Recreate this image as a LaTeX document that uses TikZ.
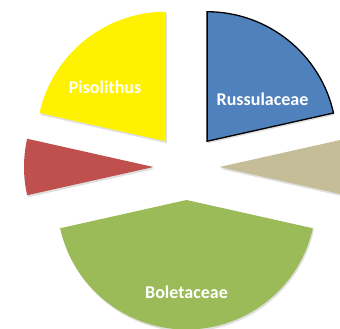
\documentclass[tikz,border=0pt]{standalone}
\usepackage{fontspec}
\setmainfont{Carlito}
\usetikzlibrary{shadows}
\definecolor{cblue}{HTML}{4F81BD}
\definecolor{cyellow}{HTML}{FFF200}
\definecolor{cred}{HTML}{C0504D}
\definecolor{cgreen}{HTML}{9BBB59}
\definecolor{ctan}{HTML}{C4BD97}
\tikzset{
  slice/.style={drop shadow={opacity=0.25,shadow xshift=1pt,shadow yshift=-2pt}},
  lbl/.style={text=white,font=\bfseries\fontsize{18}{20}\selectfont,inner sep=0pt}
}
\newcommand{\pieslice}[4]{% start, end, bisector, style
  \path[#4] (186.5,162) ++(#3:33) coordinate (apex) -- ++(#1:129.5) arc[start angle=#1,end angle=#2,radius=129.5] -- cycle;
}
\begin{document}
\begin{tikzpicture}[x=1pt,y=1pt]
\useasboundingbox (0,0) rectangle (340,329);
\clip (0,0) rectangle (340,329);
\pieslice{-12.6}{12.6}{0}{slice,fill=ctan}
\pieslice{192.6}{347.4}{270}{slice,fill=cgreen}
\pieslice{167.4}{192.6}{180}{slice,fill=cred}
\pieslice{90}{167.4}{128.7}{slice,fill=cyellow}
\pieslice{12.6}{90}{51.3}{slice,fill=cblue,draw=black,line width=1.3pt,line join=miter}
\node[lbl] (russ) at (262.5,230) {Russulaceae};
\node[lbl] (piso) at (105,242) {Pisolithus};
\node[lbl] (bole) at (186.5,37) {Boletaceae};
\end{tikzpicture}
\end{document}
